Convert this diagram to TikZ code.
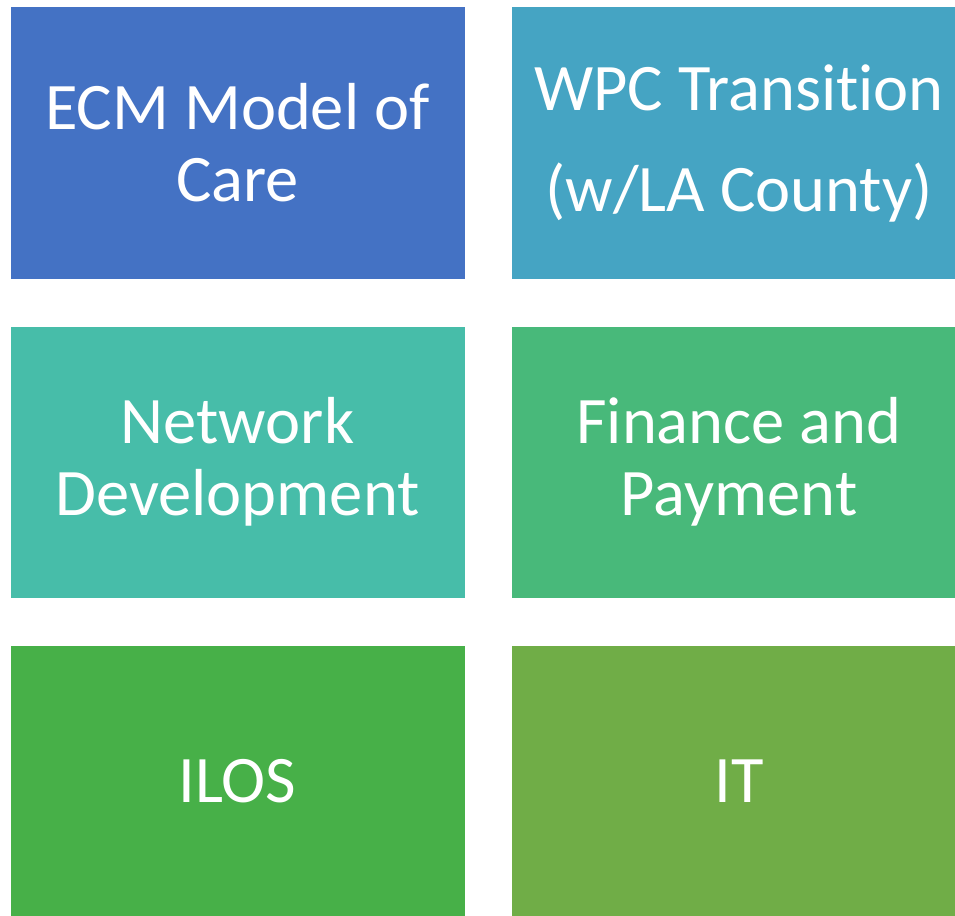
\documentclass[tikz,border=0pt]{standalone}
\usepackage{fontspec}
\setmainfont{Carlito}[Ligatures=NoCommon]
\usetikzlibrary{positioning}

\definecolor{ecmblue}{HTML}{4472C4}
\definecolor{wpcblue}{HTML}{45A4C3}
\definecolor{netteal}{HTML}{47BDA9}
\definecolor{fingreen}{HTML}{48B97A}
\definecolor{ilosgreen}{HTML}{47B048}
\definecolor{itgreen}{HTML}{70AD47}

\begin{document}
\begin{tikzpicture}[x=1pt,y=1pt,node distance=319pt and 501.5pt,on grid,
    box/.style={rectangle,minimum width=454pt,minimum height=271pt,inner sep=0pt,
        text=white,align=center,font=\fontsize{66.5}{72}\selectfont}]
    \useasboundingbox (0,0) rectangle (955,-915);
    \clip (0,0) rectangle (955,-915);

    \node[box,fill=ecmblue] (ecm) at (237.5,-143) {ECM Model of\\Care};
    \node[box,fill=wpcblue] (wpc) [right=of ecm] {WPC Transition\\[29pt](w/LA County)};
    \node[box,fill=netteal] (network) [below=of ecm] {Network\\Development};
    \node[box,fill=fingreen] (finance) [right=of network] {Finance and\\Payment};
    \node[box,fill=ilosgreen] (ilos) [below=of network] {ILOS};
    \node[box,fill=itgreen] (it) [right=of ilos] {IT};
\end{tikzpicture}
\end{document}
